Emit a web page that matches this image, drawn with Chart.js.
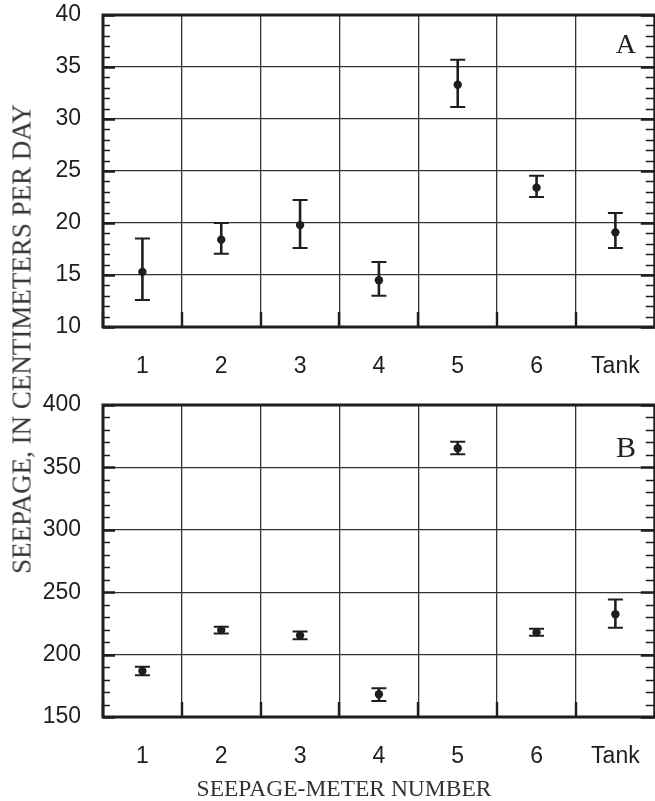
<!DOCTYPE html>
<html>
<head>
<meta charset="utf-8">
<script src="https://cdn.jsdelivr.net/npm/chart.js@4.4.1/dist/chart.umd.min.js"></script>
<style>
  body { margin: 0; width: 655px; height: 801px; overflow: hidden; background: #fff; position: relative; }
  .panel { position: absolute; left: 0; width: 659px; height: 390px; }
  #panelA { top: 0; }
  #panelB { top: 390px; }
  .ytitle {
    position: absolute; left: 22px; top: 339px;
    transform: translate(-50%, -50%) rotate(-90deg);
    font-family: "Liberation Serif"; font-size: 27px; color: #333; white-space: nowrap; line-height: 1;
  }
  .xtitle {
    position: absolute; left: 344px; top: 777px; transform: translateX(-50%);
    font-family: "Liberation Serif"; font-size: 23.5px; color: #333; white-space: nowrap; line-height: 1;
  }
</style>
</head>
<body>
<div class="panel" id="panelA"><canvas id="chartA"></canvas></div>
<div class="panel" id="panelB"><canvas id="chartB"></canvas></div>
<div class="ytitle">SEEPAGE, IN CENTIMETERS PER DAY</div>
<div class="xtitle">SEEPAGE-METER NUMBER</div>
<script>
const meters = ["1", "2", "3", "4", "5", "6", "Tank"];

// panel A
const seepA = [15.3, 18.4, 19.8, 14.5, 33.3, 23.4, 19.1];
const seepALow = [12.6, 17.05, 17.6, 13.0, 31.15, 22.5, 17.6];
const seepAHigh = [18.5, 20.0, 22.2, 16.25, 35.7, 24.55, 20.95];
const ticksA = [10, 15, 20, 25, 30, 35, 40];

// panel B
const seepB = [186.9, 219.7, 215.4, 168.2, 365.3, 217.8, 232.3];
const seepBLow = [183.4, 217.0, 212.2, 162.8, 360.5, 215.2, 221.6];
const seepBHigh = [190.3, 222.4, 218.6, 173.0, 370.6, 220.8, 244.2];
const ticksB = [150, 200, 250, 300, 350, 400];

const ink = "#1e1e1e";

const decor = {
  id: "decor",
  beforeDatasetsDraw(chart, args, opts) {
    const ctx = chart.ctx;
    const x = chart.scales.x, y = chart.scales.y;
    ctx.save();
    ctx.strokeStyle = ink;
    opts.low.forEach((lo, i) => {
      const px = x.getPixelForValue(i);
      const top = y.getPixelForValue(opts.high[i]);
      const bot = y.getPixelForValue(lo);
      ctx.lineWidth = 2.6;
      ctx.beginPath();
      ctx.moveTo(px, top);
      ctx.lineTo(px, bot);
      ctx.stroke();
      ctx.lineWidth = 2;
      ctx.beginPath();
      ctx.moveTo(px - 7.5, top);
      ctx.lineTo(px + 7.5, top);
      ctx.moveTo(px - 7.5, bot);
      ctx.lineTo(px + 7.5, bot);
      ctx.stroke();
    });
    ctx.restore();
  },
  afterDraw(chart, args, opts) {
    const ctx = chart.ctx;
    const a = chart.chartArea;
    const x = chart.scales.x, y = chart.scales.y;
    ctx.save();
    ctx.strokeStyle = ink;
    // minor + major ticks on both sides
    for (let v = y.min; v <= y.max; v += opts.minor) {
      const py = Math.round(y.getPixelForValue(v)) + 0.5;
      const major = (v - y.min) % opts.major === 0;
      const len = major ? 12 : 7;
      ctx.lineWidth = major ? 2.4 : 1.4;
      ctx.beginPath();
      ctx.moveTo(a.left, py);
      ctx.lineTo(a.left + len, py);
      ctx.moveTo(a.right, py);
      ctx.lineTo(a.right - len - 2, py);
      ctx.stroke();
    }
    // ticks up from the bottom at column edges
    ctx.lineWidth = 2.4;
    for (let i = 0; i <= meters.length; i++) {
      const px = Math.round(x.getPixelForValue(i - 0.5));
      ctx.beginPath();
      ctx.moveTo(px, a.bottom);
      ctx.lineTo(px, a.bottom - 15);
      ctx.stroke();
    }
    // frame
    ctx.lineWidth = 3;
    ctx.strokeRect(a.left, a.top, a.right - a.left, a.bottom - a.top);
    // panel letter
    ctx.fillStyle = "#222";
    ctx.font = opts.tagSize + "px 'Liberation Serif'";
    ctx.textAlign = "right";
    ctx.textBaseline = "alphabetic";
    ctx.fillText(opts.tag, 636, a.top + opts.tagBase);
    ctx.restore();
  },
};

function makePanel(id, values, low, high, yTicks, minor, tag, tagSize, tagBase) {
  new Chart(document.getElementById(id), {
    type: "line",
    data: {
      labels: meters,
      datasets: [{
        data: values,
        showLine: false,
        pointRadius: 4.2,
        pointHoverRadius: 4.2,
        pointBackgroundColor: ink,
        pointBorderWidth: 0,
      }],
    },
    options: {
      responsive: true,
      maintainAspectRatio: false,
      animation: false,
      events: [],
      layout: { padding: { top: 15, right: 2, left: 0, bottom: 0 } },
      plugins: {
        legend: { display: false },
        tooltip: { enabled: false },
        decor: { low: low, high: high, minor: minor, major: yTicks[1] - yTicks[0], tag: tag, tagSize: tagSize, tagBase: tagBase },
      },
      scales: {
        x: {
          type: "category",
          offset: true,
          grid: { offset: true, color: "#333", lineWidth: 1.3, drawTicks: false },
          border: { display: false },
          ticks: { color: ink, padding: 26, font: { family: "Liberation Sans", size: 23 } },
          afterFit: (s) => { s.height = 63; s.paddingLeft = 0; s.paddingRight = 0; },
        },
        y: {
          min: yTicks[0],
          max: yTicks[yTicks.length - 1],
          grid: { color: "#333", lineWidth: 1.3, drawTicks: false },
          border: { display: false },
          ticks: { stepSize: yTicks[1] - yTicks[0], color: ink, padding: 22, font: { family: "Liberation Sans", size: 23 } },
          afterFit: (s) => { s.width = 103; s.paddingTop = 0; s.paddingBottom = 0; },
        },
      },
    },
    plugins: [decor],
  });
}

makePanel("chartA", seepA, seepALow, seepAHigh, ticksA, 1, "A", 28, 38);
makePanel("chartB", seepB, seepBLow, seepBHigh, ticksB, 10, "B", 30, 52);
</script>
</body>
</html>
